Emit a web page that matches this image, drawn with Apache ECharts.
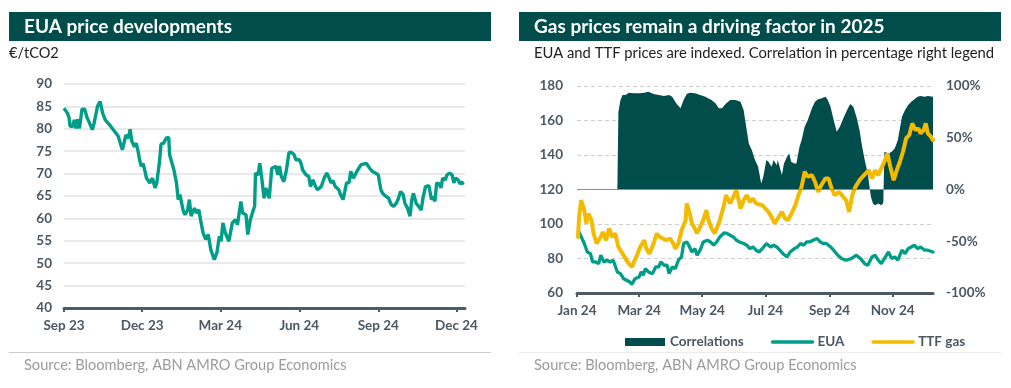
<!DOCTYPE html>
<html>
<head>
<meta charset="utf-8">
<script src="https://cdn.jsdelivr.net/npm/echarts@6/dist/echarts.min.js"></script>
<style>
html,body{margin:0;padding:0;background:#fff;}
#chart{width:1011px;height:388px;}
</style>
</head>
<body>
<div id="chart"></div>
<script>
// ---------- Left panel: EUA price (EUR/tCO2) ----------
const euaDates = ['2023-09-01','2023-09-05','2023-09-07','2023-09-08','2023-09-11','2023-09-13','2023-09-15','2023-09-17','2023-09-19','2023-09-22','2023-09-25','2023-09-28','2023-09-30','2023-10-04','2023-10-06','2023-10-08','2023-10-10','2023-10-13','2023-10-16','2023-10-19','2023-10-24','2023-10-30','2023-11-03','2023-11-08','2023-11-10','2023-11-12','2023-11-15','2023-11-17','2023-11-19','2023-11-22','2023-11-24','2023-11-26','2023-11-28','2023-11-30','2023-12-02','2023-12-04','2023-12-06','2023-12-08','2023-12-10','2023-12-13','2023-12-16','2023-12-18','2023-12-21','2023-12-23','2023-12-26','2023-12-29','2024-01-01','2024-01-02','2024-01-04','2024-01-07','2024-01-10','2024-01-12','2024-01-14','2024-01-16','2024-01-18','2024-01-20','2024-01-23','2024-01-25','2024-01-27','2024-01-31','2024-02-02','2024-02-05','2024-02-07','2024-02-10','2024-02-13','2024-02-16','2024-02-19','2024-02-23','2024-02-26','2024-02-29','2024-03-02','2024-03-04','2024-03-07','2024-03-11','2024-03-15','2024-03-19','2024-03-21','2024-03-25','2024-03-27','2024-03-31','2024-04-02','2024-04-05','2024-04-08','2024-04-10','2024-04-11','2024-04-14','2024-04-16','2024-04-18','2024-04-21','2024-04-23','2024-04-27','2024-04-28','2024-04-30','2024-05-02','2024-05-05','2024-05-07','2024-05-09','2024-05-11','2024-05-14','2024-05-17','2024-05-20','2024-05-23','2024-05-26','2024-05-28','2024-05-30','2024-06-01','2024-06-03','2024-06-05','2024-06-09','2024-06-12','2024-06-14','2024-06-17','2024-06-19','2024-06-22','2024-06-25','2024-06-27','2024-06-30','2024-07-03','2024-07-05','2024-07-08','2024-07-10','2024-07-13','2024-07-17','2024-07-19','2024-07-22','2024-07-24','2024-07-26','2024-07-29','2024-07-31','2024-08-03','2024-08-05','2024-08-08','2024-08-10','2024-08-12','2024-08-14','2024-08-18','2024-08-20','2024-08-22','2024-08-25','2024-08-29','2024-09-01','2024-09-04','2024-09-06','2024-09-08','2024-09-10','2024-09-13','2024-09-16','2024-09-19','2024-09-22','2024-09-24','2024-09-27','2024-09-30','2024-10-02','2024-10-05','2024-10-08','2024-10-10','2024-10-12','2024-10-15','2024-10-18','2024-10-21','2024-10-23','2024-10-26','2024-10-30','2024-11-02','2024-11-04','2024-11-06','2024-11-08','2024-11-11','2024-11-13','2024-11-15','2024-11-18','2024-11-20','2024-11-23','2024-11-26','2024-11-28','2024-11-30','2024-12-03','2024-12-05','2024-12-07','2024-12-09'];
const euaPrices = [84.6,83.5,82.4,80.6,80.5,82.0,80.1,82.1,80.1,84.4,84.4,82.4,81.6,79.8,81.2,80.9,85.0,86.1,83.5,82.0,80.9,79.4,78.4,75.3,76.9,78.6,77.9,79.9,77.2,76.0,76.8,75.3,73.1,71.6,72.3,70.8,69.0,69.4,67.9,69.0,66.8,67.9,72.3,76.6,76.8,77.9,78.1,74.2,73.8,70.8,67.9,64.2,65.3,63.4,61.6,60.8,61.9,64.2,60.5,62.3,61.2,61.9,59.7,56.7,55.3,56.4,53.0,50.8,52.3,56.0,54.9,59.0,56.7,54.9,59.0,59.7,58.6,63.8,61.2,60.8,56.4,59.7,61.6,62.7,70.1,69.7,72.3,69.4,64.5,66.8,64.5,66.8,71.2,70.8,71.6,69.7,71.7,69.4,68.2,70.8,74.7,74.7,74.2,73.1,73.4,73.1,72.3,70.8,69.7,69.4,67.1,68.6,67.5,66.4,66.8,67.3,69.0,70.1,69.4,67.9,68.5,67.1,66.4,65.3,64.2,66.0,67.9,68.0,70.5,69.0,69.7,70.8,70.5,72.0,71.6,72.3,72.7,71.2,70.5,70.1,69.7,66.4,65.6,66.0,64.9,64.5,63.1,62.7,63.4,64.2,66.0,65.3,63.4,62.3,60.5,64.2,65.6,63.4,62.7,61.9,64.5,67.1,67.3,64.2,64.9,63.8,67.9,67.7,66.8,69.0,68.6,69.7,70.1,69.7,67.9,69.0,68.6,67.7,68.2,67.5];
const leftTickDates = ['2023-09-01','2023-12-01','2024-03-01','2024-06-01','2024-09-01','2024-12-01'];
const leftTickLabels = ['Sep 23','Dec 23','Mar 24','Jun 24','Sep 24','Dec 24'];

// ---------- Right panel: indexed EUA & TTF, correlation (%) ----------
const euaIdxDates = ['2024-01-03','2024-01-08','2024-01-11','2024-01-14','2024-01-16','2024-01-19','2024-01-22','2024-01-24','2024-01-27','2024-01-30','2024-02-02','2024-02-05','2024-02-09','2024-02-12','2024-02-15','2024-02-18','2024-02-21','2024-02-23','2024-02-26','2024-03-01','2024-03-03','2024-03-05','2024-03-07','2024-03-10','2024-03-14','2024-03-17','2024-03-20','2024-03-22','2024-03-25','2024-03-28','2024-03-30','2024-04-02','2024-04-05','2024-04-08','2024-04-11','2024-04-13','2024-04-16','2024-04-18','2024-04-21','2024-04-24','2024-04-26','2024-04-29','2024-05-02','2024-05-06','2024-05-09','2024-05-12','2024-05-15','2024-05-18','2024-05-22','2024-05-25','2024-05-28','2024-05-31','2024-06-03','2024-06-06','2024-06-10','2024-06-13','2024-06-16','2024-06-19','2024-06-22','2024-06-25','2024-06-28','2024-07-02','2024-07-06','2024-07-09','2024-07-12','2024-07-15','2024-07-18','2024-07-22','2024-07-25','2024-07-29','2024-08-01','2024-08-04','2024-08-07','2024-08-10','2024-08-13','2024-08-16','2024-08-20','2024-08-23','2024-08-26','2024-08-29','2024-09-02','2024-09-05','2024-09-09','2024-09-13','2024-09-17','2024-09-22','2024-09-27','2024-10-01','2024-10-05','2024-10-08','2024-10-12','2024-10-15','2024-10-18','2024-10-21','2024-10-24','2024-10-28','2024-10-31','2024-11-03','2024-11-06','2024-11-10','2024-11-13','2024-11-16','2024-11-19','2024-11-22','2024-11-25','2024-11-28','2024-12-02','2024-12-05','2024-12-10'];
const euaIdx = [95.4,88.7,83.8,82.8,78.0,78.0,77.0,81.9,78.0,79.0,78.0,79.0,72.2,71.2,68.3,67.4,66.4,65.0,68.3,69.3,72.2,70.3,74.1,72.2,71.2,75.1,75.1,78.0,76.1,76.1,71.2,75.1,74.1,79.0,80.9,88.7,89.6,87.7,83.8,85.7,81.9,84.8,89.6,90.6,89.6,87.7,89.6,92.5,94.8,94.5,93.5,92.5,90.6,89.6,88.7,87.7,85.7,86.7,84.8,83.8,85.7,88.7,86.7,87.7,86.7,84.8,82.8,80.9,83.8,85.7,86.7,88.7,87.7,89.6,89.6,90.6,91.6,89.6,88.7,88.7,86.7,84.8,81.9,79.9,79.0,79.9,81.9,79.9,77.0,76.1,80.9,81.9,79.0,77.0,79.9,83.8,79.9,80.9,79.0,84.8,82.8,85.7,86.7,87.7,85.7,86.7,84.8,84.8,83.8];

const ttfDates = ['2024-01-02','2024-01-03','2024-01-05','2024-01-08','2024-01-10','2024-01-12','2024-01-15','2024-01-17','2024-01-20','2024-01-24','2024-01-26','2024-01-29','2024-02-01','2024-02-04','2024-02-07','2024-02-10','2024-02-14','2024-02-17','2024-02-20','2024-02-23','2024-02-25','2024-02-28','2024-03-02','2024-03-06','2024-03-08','2024-03-11','2024-03-15','2024-03-18','2024-03-21','2024-03-24','2024-03-27','2024-03-31','2024-04-03','2024-04-05','2024-04-08','2024-04-11','2024-04-15','2024-04-16','2024-04-19','2024-04-21','2024-04-23','2024-04-26','2024-04-29','2024-05-02','2024-05-05','2024-05-07','2024-05-10','2024-05-13','2024-05-15','2024-05-18','2024-05-22','2024-05-24','2024-05-28','2024-05-31','2024-06-03','2024-06-07','2024-06-10','2024-06-13','2024-06-16','2024-06-19','2024-06-22','2024-06-28','2024-07-01','2024-07-04','2024-07-07','2024-07-10','2024-07-14','2024-07-17','2024-07-20','2024-07-23','2024-07-27','2024-07-30','2024-08-02','2024-08-05','2024-08-08','2024-08-11','2024-08-15','2024-08-18','2024-08-21','2024-08-24','2024-08-28','2024-08-31','2024-09-03','2024-09-06','2024-09-10','2024-09-13','2024-09-17','2024-09-20','2024-09-23','2024-09-26','2024-09-30','2024-10-03','2024-10-06','2024-10-09','2024-10-12','2024-10-15','2024-10-18','2024-10-21','2024-10-24','2024-10-27','2024-10-29','2024-11-02','2024-11-05','2024-11-08','2024-11-11','2024-11-14','2024-11-17','2024-11-20','2024-11-23','2024-11-26','2024-11-28','2024-12-01','2024-12-03','2024-12-05','2024-12-08','2024-12-10'];
const ttfIdx = [92.5,104.0,113.8,108.0,100.3,106.0,102.2,94.5,88.7,92.5,95.4,90.6,97.4,92.5,94.5,86.7,82.8,79.9,77.0,75.1,78.0,81.9,86.7,90.6,85.7,82.8,88.7,94.5,92.5,91.6,90.6,91.6,88.7,85.7,88.7,96.4,102.2,111.9,106.0,100.3,98.3,94.5,98.3,102.2,108.0,102.2,97.4,94.5,97.4,102.2,110.9,116.7,111.9,115.7,119.6,109.0,113.8,116.7,112.8,114.8,111.9,110.9,109.0,107.0,104.1,100.3,104.1,107.0,103.2,102.2,107.0,110.9,116.7,121.5,130.3,127.4,128.3,124.5,118.6,122.5,126.4,126.4,120.6,116.7,118.6,116.7,113.8,107.0,116.7,121.5,125.4,127.4,129.3,131.2,126.4,131.2,128.3,132.2,136.1,140.9,135.1,125.4,131.2,136.1,141.9,149.6,151.5,158.3,154.5,155.4,152.5,154.5,158.3,152.5,150.6,148.6];

const corrDates = ['2024-02-09','2024-02-10','2024-02-12','2024-02-14','2024-02-17','2024-02-20','2024-02-25','2024-03-01','2024-03-06','2024-03-10','2024-03-15','2024-03-20','2024-03-25','2024-03-30','2024-04-02','2024-04-06','2024-04-10','2024-04-13','2024-04-16','2024-04-19','2024-04-24','2024-04-29','2024-05-04','2024-05-07','2024-05-10','2024-05-14','2024-05-17','2024-05-20','2024-05-24','2024-05-28','2024-06-02','2024-06-07','2024-06-10','2024-06-13','2024-06-15','2024-06-18','2024-06-21','2024-06-24','2024-06-27','2024-06-29','2024-07-02','2024-07-04','2024-07-07','2024-07-09','2024-07-12','2024-07-13','2024-07-17','2024-07-19','2024-07-22','2024-07-24','2024-07-26','2024-07-29','2024-07-31','2024-08-03','2024-08-05','2024-08-08','2024-08-11','2024-08-15','2024-08-18','2024-08-21','2024-08-24','2024-08-28','2024-08-30','2024-09-02','2024-09-05','2024-09-08','2024-09-11','2024-09-15','2024-09-18','2024-09-21','2024-09-24','2024-09-27','2024-09-30','2024-10-02','2024-10-05','2024-10-08','2024-10-10','2024-10-11','2024-10-13','2024-10-15','2024-10-18','2024-10-21','2024-10-23','2024-10-24','2024-10-28','2024-10-31','2024-11-03','2024-11-06','2024-11-10','2024-11-13','2024-11-16','2024-11-19','2024-11-22','2024-11-25','2024-11-28','2024-12-02','2024-12-05','2024-12-10'];
const corrPct = [0,75,86.5,91.3,91.3,93.5,92.9,92.9,93.5,94.5,92.3,91.3,90.3,91.3,89.7,83.2,78.4,86.5,92.3,93.5,92.9,91.3,89.7,88.0,86.5,83.2,78.4,78.4,83.2,86.5,86.5,84.8,76.8,57.4,44.5,38.0,28.4,22.0,5.8,12.3,28.4,26.8,22.0,28.4,23.5,28.4,13.9,25.2,31.6,34.8,26.8,25.2,25.2,41.3,47.7,60.6,67.1,78.4,84.8,87.1,88.0,89.7,87.1,80.0,67.1,55.8,60.6,70.3,76.8,82.6,80.0,70.3,57.4,44.5,28.4,15.5,0,-7.1,-13.5,-15.2,-13.5,-15.2,-13.0,36.5,34.8,36.5,39.7,47.7,70.3,76.8,81.6,84.8,87.1,89.7,90.3,89.7,90.3,89.7];

const rightTickDates = ['2024-01-01','2024-03-01','2024-05-01','2024-07-01','2024-09-01','2024-11-01'];
const rightTickLabels = ['Jan 24','Mar 24','May 24','Jul 24','Sep 24','Nov 24'];

// ---------- helpers ----------
const ts = s => +echarts.number.parseDate(s);
const zip = (d, v) => d.map((x, i) => [ts(x), v[i]]);
const leftTicks = leftTickDates.map(ts);
const rightTicks = rightTickDates.map(ts);

const DARK = '#004d4b';
const TEAL = '#009e88';
const GOLD = '#f3bb00';
const AXIS = '#4d5b66';
const LABEL = '#4a5864';
const FONT = 'Lato, "Open Sans", sans-serif';

const chart = echarts.init(document.getElementById('chart'), null, {renderer: 'canvas'});

const labelStyle = {color: LABEL, fontFamily: FONT, fontSize: 13.5, fontWeight: 'bold'};

// date axis drawn as a linear value axis over timestamps, with month ticks
function dateAxis(grid, min, max, ticks, labels) {
  return {
    type: 'value', gridIndex: grid, min: ts(min), max: ts(max), scale: true,
    axisLine: {show: true, onZero: false, lineStyle: {color: AXIS, width: 3}},
    axisTick: {show: true, customValues: ticks, length: 4, lineStyle: {color: AXIS, width: 2}},
    axisLabel: Object.assign({
      customValues: ticks, margin: 11,
      formatter: v => { const i = ticks.indexOf(v); return i >= 0 ? labels[i] : ''; }
    }, labelStyle),
    splitLine: {show: false}
  };
}

chart.setOption({
  animation: false,
  grid: [
    {left: 64, top: 84, width: 401, height: 224},
    {left: 577, top: 86, width: 356, height: 207}
  ],
  xAxis: [
    dateAxis(0, '2023-09-01', '2024-12-11', leftTicks, leftTickLabels),
    dateAxis(1, '2024-01-01', '2024-12-10', rightTicks, rightTickLabels)
  ],
  yAxis: [
    {type: 'value', gridIndex: 0, min: 40, max: 90, interval: 5,
     axisLine: {show: false}, axisTick: {show: false},
     axisLabel: Object.assign({margin: 12}, labelStyle),
     splitLine: {lineStyle: {color: '#e2e2e2', width: 1.5}}},
    {type: 'value', gridIndex: 1, min: 60, max: 180, interval: 20,
     axisLine: {show: false}, axisTick: {show: false},
     axisLabel: Object.assign({margin: 14}, labelStyle),
     splitLine: {lineStyle: {color: '#cfcfcf', width: 1, type: [4, 3]}}},
    {type: 'value', gridIndex: 1, position: 'right', min: -100, max: 100, interval: 50,
     axisLine: {show: false}, axisTick: {show: false},
     axisLabel: Object.assign({margin: 13, formatter: '{value}%'}, labelStyle),
     splitLine: {show: false}}
  ],
  legend: {
    left: 620, top: 330, itemWidth: 40, itemHeight: 8, itemGap: 27,
    textStyle: {color: LABEL, fontFamily: FONT, fontSize: 13.5, fontWeight: 'bold'},
    data: [
      {name: 'Correlations', icon: 'rect'},
      {name: 'EUA', itemStyle: {opacity: 0}, lineStyle: {width: 3.5, cap: 'round'}},
      {name: 'TTF gas', itemStyle: {opacity: 0}, lineStyle: {width: 3.5, cap: 'round'}}
    ]
  },
  series: [
    {name: 'EUA price', type: 'line', xAxisIndex: 0, yAxisIndex: 0,
     data: zip(euaDates, euaPrices), symbol: 'none',
     lineStyle: {color: TEAL, width: 3.4}, itemStyle: {color: TEAL}},
    {name: 'Correlations', type: 'line', xAxisIndex: 1, yAxisIndex: 2,
     data: zip(corrDates, corrPct), symbol: 'none',
     lineStyle: {width: 0, color: DARK}, itemStyle: {color: DARK},
     areaStyle: {color: DARK, opacity: 1},
     markLine: {silent: true, symbol: 'none', label: {show: false},
       lineStyle: {color: '#8a8a8a', width: 1, type: 'solid'}, data: [{yAxis: 0}]}},
    {name: 'EUA', type: 'line', xAxisIndex: 1, yAxisIndex: 1,
     data: zip(euaIdxDates, euaIdx), symbol: 'none',
     lineStyle: {color: TEAL, width: 3.3, cap: 'round'}, itemStyle: {color: TEAL}},
    {name: 'TTF gas', type: 'line', xAxisIndex: 1, yAxisIndex: 1,
     data: zip(ttfDates, ttfIdx), symbol: 'none',
     lineStyle: {color: GOLD, width: 4, cap: 'round'}, itemStyle: {color: GOLD}}
  ],
  graphic: [
    {type: 'rect', shape: {x: 9, y: 12, width: 482, height: 29}, style: {fill: DARK}, silent: true},
    {type: 'rect', shape: {x: 519, y: 12, width: 482, height: 29}, style: {fill: DARK}, silent: true},
    {type: 'text', x: 24, y: 26.5, style: {text: 'EUA price developments', fill: '#fff', font: 'bold 19px ' + FONT, verticalAlign: 'middle'}},
    {type: 'text', x: 534, y: 26.5, style: {text: 'Gas prices remain a driving factor in 2025', fill: '#fff', font: 'bold 19px ' + FONT, verticalAlign: 'middle'}},
    {type: 'text', x: 9, y: 53, style: {text: '€/tCO2', fill: '#1e1e1e', font: '14.6px ' + FONT, verticalAlign: 'middle'}},
    {type: 'text', x: 534, y: 53, style: {text: 'EUA and TTF prices are indexed. Correlation in percentage right legend', fill: '#1e1e1e', font: '14.8px ' + FONT, verticalAlign: 'middle'}},
    {type: 'line', shape: {x1: 9, y1: 352.5, x2: 491, y2: 352.5}, style: {stroke: '#cccccc', lineWidth: 1}, silent: true},
    {type: 'line', shape: {x1: 519, y1: 352.5, x2: 1001, y2: 352.5}, style: {stroke: '#ececec', lineWidth: 1}, silent: true},
    {type: 'text', x: 24, y: 365, style: {text: 'Source: Bloomberg, ABN AMRO Group Economics', fill: '#9b9b9b', font: '14.6px ' + FONT, verticalAlign: 'middle'}},
    {type: 'text', x: 534, y: 365, style: {text: 'Source: Bloomberg, ABN AMRO Group Economics', fill: '#9b9b9b', font: '14.6px ' + FONT, verticalAlign: 'middle'}}
  ]
});
</script>
</body>
</html>
